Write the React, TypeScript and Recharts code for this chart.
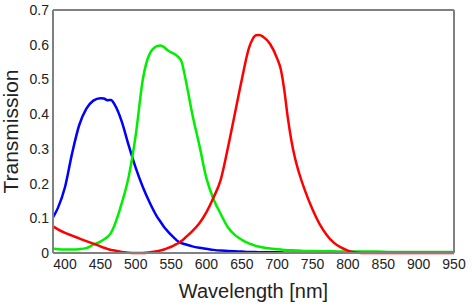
import { LineChart, Line, XAxis, YAxis } from 'recharts';

const wavelengths = [
  383, 390, 400, 410, 420, 430, 440, 450, 455, 460, 465, 470, 480, 490, 500, 510, 520, 530, 535, 540,
  545, 550, 555, 560, 565, 570, 580, 590, 600, 610, 620, 630, 640, 650, 660, 665, 670, 675, 680, 690,
  700, 705, 710, 715, 720, 725, 730, 740, 750, 760, 770, 780, 790, 800, 810, 820, 840, 860, 880, 900, 925, 950,
];

const blue = [
  0.103, 0.13, 0.19, 0.287, 0.368, 0.415, 0.439, 0.446, 0.445, 0.44, 0.441, 0.428, 0.38, 0.31, 0.245, 0.19, 0.144, 0.105, 0.09, 0.075,
  0.063, 0.052, 0.042, 0.033, 0.028, 0.025, 0.019, 0.015, 0.012, 0.009, 0.007, 0.006, 0.005, 0.004, 0.003, 0.003, 0.003, 0.002, 0.002, 0.002,
  0.002, 0.002, 0.001, 0.001, 0.001, 0.001, 0.001, 0.001, 0.001, 0.001, 0.001, 0.001, 0.001, 0.001, 0.001, 0.001, 0.001, 0.001, 0.001, 0.001, 0.001, 0.001,
];

const green = [
  0.013, 0.011, 0.01, 0.01, 0.011, 0.014, 0.024, 0.033, 0.039, 0.046, 0.058, 0.08, 0.142, 0.22, 0.34, 0.5, 0.575, 0.596, 0.598, 0.593,
  0.584, 0.578, 0.573, 0.565, 0.55, 0.505, 0.4, 0.31, 0.215, 0.155, 0.113, 0.075, 0.052, 0.038, 0.028, 0.024, 0.02, 0.018, 0.016, 0.013,
  0.011, 0.01, 0.009, 0.008, 0.008, 0.0075, 0.007, 0.006, 0.006, 0.005, 0.005, 0.005, 0.004, 0.004, 0.004, 0.004, 0.004, 0.003, 0.003, 0.003, 0.003, 0.003,
];

const red = [
  0.077, 0.068, 0.058, 0.05, 0.042, 0.034, 0.027, 0.019, 0.015, 0.012, 0.009, 0.007, 0.003, 0.001, 0.0, 0.0, 0.002, 0.005, 0.007, 0.01,
  0.014, 0.018, 0.023, 0.028, 0.035, 0.044, 0.063, 0.086, 0.118, 0.16, 0.21, 0.3, 0.4, 0.5, 0.59, 0.615, 0.627, 0.628, 0.623, 0.602,
  0.56, 0.53, 0.47, 0.39, 0.325, 0.275, 0.237, 0.176, 0.125, 0.083, 0.052, 0.03, 0.016, 0.007, 0.002, 0.0, 0.0, 0.0, 0.0, 0.0, 0.0, 0.0,
];

const xTicks = [400, 450, 500, 550, 600, 650, 700, 750, 800, 850, 900, 950];
const yTicks = [0, 0.1, 0.2, 0.3, 0.4, 0.5, 0.6, 0.7];

const data = wavelengths.map((w, i) => ({ w, blue: blue[i], green: green[i], red: red[i] }));

const FONT = 'Arial, "Liberation Sans", sans-serif';
const FRAME = { stroke: '#808080', strokeWidth: 2 };

export default function App() {
  return (
    <div style={{ position: 'absolute', left: 0, top: 0, background: '#fff' }}>
      <LineChart width={472} height={307} data={data} margin={{ top: 9, right: 17, bottom: 0, left: 0 }}>
        <XAxis
          dataKey="w"
          type="number"
          domain={[383, 950]}
          ticks={xTicks}
          height={54}
          axisLine={FRAME}
          tickLine={false}
          tickSize={0}
          tickMargin={6}
          tick={{ fill: '#222', fontSize: 14, fontFamily: FONT }}
          label={{
            content: () => (
              <text x={253.5} y={298} textAnchor="middle" fontSize={20} fontFamily={FONT} fill="#222">
                Wavelength [nm]
              </text>
            ),
          }}
        />
        {/* top edge of the frame */}
        <XAxis
          xAxisId="top"
          orientation="top"
          dataKey="w"
          type="number"
          domain={[383, 950]}
          ticks={xTicks}
          height={1}
          axisLine={FRAME}
          tickLine={false}
          tick={false}
        />
        <YAxis
          type="number"
          domain={[0, 0.7]}
          ticks={yTicks}
          width={53}
          axisLine={FRAME}
          tickLine={false}
          tickSize={0}
          tickMargin={4}
          tick={{ fill: '#222', fontSize: 14, fontFamily: FONT }}
          label={{
            content: () => (
              <text
                x={18}
                y={131.5}
                textAnchor="middle"
                fontSize={21}
                fontFamily={FONT}
                fill="#222"
                transform="rotate(-90, 18, 131.5)"
              >
                Transmission
              </text>
            ),
          }}
        />
        {/* right edge of the frame */}
        <YAxis
          yAxisId="right"
          orientation="right"
          type="number"
          domain={[0, 0.7]}
          ticks={yTicks}
          width={1}
          axisLine={FRAME}
          tickLine={false}
          tick={false}
        />
        <Line type="monotone" dataKey="blue" stroke="#0000ff" strokeWidth={2.5} dot={false} isAnimationActive={false} />
        <Line type="monotone" dataKey="green" stroke="#00ee00" strokeWidth={2.5} dot={false} isAnimationActive={false} />
        <Line type="monotone" dataKey="red" stroke="#ff0000" strokeWidth={2.5} dot={false} isAnimationActive={false} />
        {/* invisible series so the extra axes are in use */}
        <Line
          xAxisId="top"
          yAxisId="right"
          dataKey="red"
          stroke="none"
          strokeWidth={0}
          dot={false}
          activeDot={false}
          legendType="none"
          isAnimationActive={false}
        />
      </LineChart>
    </div>
  );
}
